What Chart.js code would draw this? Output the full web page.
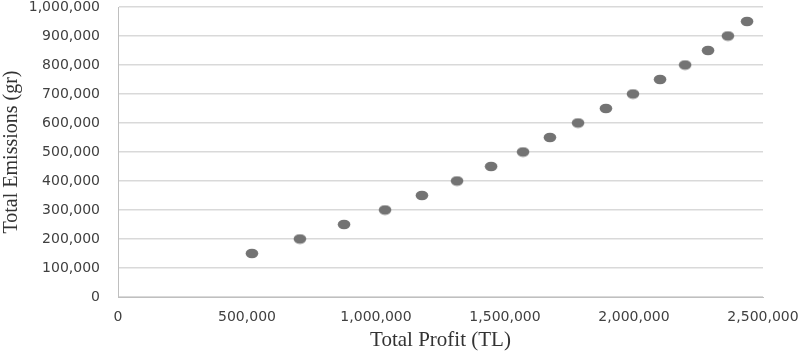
<!DOCTYPE html>
<html>
<head>
<meta charset="utf-8">
<script src="https://cdn.jsdelivr.net/npm/chart.js@4"></script>
<style>
  body { margin: 0; background: #fff; }
  #wrap { width: 800px; height: 353px; }
</style>
</head>
<body>
<div id="wrap"><canvas id="scatterChart" width="800" height="353"></canvas></div>
<script>
// Data
const totalProfit = [519000, 705000, 876000, 1035000, 1178000, 1314000, 1446000, 1570000, 1674000,
                     1783000, 1891000, 1996000, 2101000, 2198000, 2287000, 2364000, 2438000];
const totalEmissions = [150000, 200000, 250000, 300000, 350000, 400000, 450000, 500000, 550000,
                        600000, 650000, 700000, 750000, 800000, 850000, 900000, 950000];
const xTicks = [0, 500000, 1000000, 1500000, 2000000, 2500000];
const yTicks = [0, 100000, 200000, 300000, 400000, 500000, 600000, 700000, 800000, 900000, 1000000];

// Oval marker like the original
function makeMarker() {
    const c = document.createElement('canvas');
    c.width = 14; c.height = 11;
    const g = c.getContext('2d');
    g.fillStyle = '#737373';
    g.beginPath();
    g.ellipse(7, 5.5, 6.3, 4.8, 0, 0, Math.PI * 2);
    g.fill();
    return c;
}

const points = totalProfit.map((x, i) => ({ x: x, y: totalEmissions[i] }));
const fmt = v => v.toLocaleString('en-US');

const ctx = document.getElementById('scatterChart').getContext('2d');
new Chart(ctx, {
    type: 'scatter',
    data: {
        datasets: [{
            data: points,
            pointStyle: makeMarker(),
            pointRadius: 6
        }]
    },
    options: {
        responsive: false,
        animation: false,
        layout: { padding: { top: 5, right: 37, left: 0, bottom: 0 } },
        plugins: { legend: { display: false }, tooltip: { enabled: false } },
        scales: {
            x: {
                type: 'linear',
                min: 0,
                max: 2500000,
                afterBuildTicks: s => { s.ticks = xTicks.map(v => ({ value: v })); },
                afterFit: s => { s.height = 56; s.paddingLeft = 0; s.paddingRight = 0; },
                grid: { display: false, drawTicks: false },
                border: { display: true, color: '#bfbfbf', width: 1 },
                ticks: {
                    padding: 12,
                    color: '#404040',
                    maxRotation: 0,
                    font: { family: 'DejaVu Sans', size: 14 },
                    callback: v => fmt(v)
                },
                title: {
                    display: true,
                    text: 'Total Profit (TL)',
                    color: '#333333',
                    font: { family: 'Liberation Serif', size: 21 },
                    padding: { top: 0, bottom: 0 }
                }
            },
            y: {
                type: 'linear',
                min: 0,
                max: 1000000,
                afterBuildTicks: s => { s.ticks = yTicks.map(v => ({ value: v })); },
                afterFit: s => { s.width = 118; s.paddingTop = 0; s.paddingBottom = 0; },
                grid: { color: '#d9d9d9', lineWidth: 1.5, drawTicks: false },
                border: { display: true, color: '#bfbfbf', width: 1 },
                ticks: {
                    padding: 18,
                    color: '#404040',
                    font: { family: 'DejaVu Sans', size: 14 },
                    callback: v => fmt(v)
                },
                title: {
                    display: true,
                    text: 'Total Emissions (gr)',
                    color: '#333333',
                    font: { family: 'Liberation Serif', size: 20 },
                    padding: { top: 0, bottom: 0 }
                }
            }
        }
    }
});
</script>
</body>
</html>
